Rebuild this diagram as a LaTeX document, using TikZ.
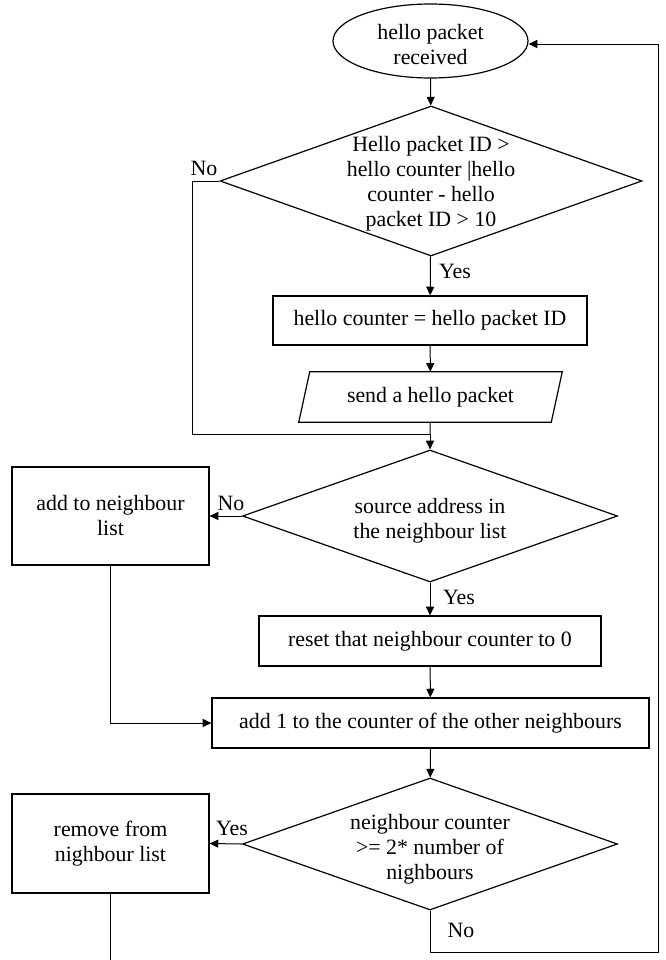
\documentclass[tikz,border=0pt]{standalone}
\usepackage{fontspec}
\setmainfont{Liberation Serif}
\usetikzlibrary{shapes.geometric,arrows.meta}
\newcommand\pxu{0.75pt}
\begin{document}
\begin{tikzpicture}[x=0.75pt,y=-0.75pt,
  font=\fontsize{16.4pt}{18.75pt}\selectfont,
  shape line/.style={draw=black,line width=0.9pt},
  proc/.style={rectangle,shape line,inner sep=0pt,align=center},
  dec/.style={diamond,shape line,inner sep=0pt,minimum width=375*\pxu,minimum height=132*\pxu},
  dectext/.style={align=center,inner sep=0pt},
  flow/.style={line width=0.75pt,-{Triangle[length=6.5pt,width=6pt]}},
  plain/.style={line width=0.75pt},
  lbl/.style={inner sep=0pt}
]
\useasboundingbox (0,0) rectangle (666,960);

% start of the procedure
\node[ellipse,shape line,inner sep=0pt,
      minimum width=195*\pxu,minimum height=74*\pxu] (start) at (430.5,41) {};
\node[dectext] (startt) at (430.5,45) {hello packet\\received};

% hello packet ID check
\node[diamond,shape line,inner sep=0pt,minimum width=422*\pxu,minimum height=150*\pxu] (d1) at (431,181) {};
\node[dectext] (d1t) at (431,184) {Hello packet ID >\\hello counter |hello\\counter - hello\\packet ID > 10};

\node[proc,minimum width=314*\pxu,minimum height=49*\pxu] (upd) at (430,320.5) {hello counter = hello packet ID};

% output step (parallelogram)
\node[inner sep=0pt,minimum width=252*\pxu,minimum height=50*\pxu] (send) at (430.5,397) {send a hello packet};
\draw[shape line] ([xshift=5.5*\pxu]send.north west) -- ([xshift=5.5*\pxu]send.north east)
  -- ([xshift=-5.5*\pxu]send.south east) -- ([xshift=-5.5*\pxu]send.south west) -- cycle;

\coordinate (m1) at (430,434);

% neighbour list check
\node[dec] (d2) at (430,516) {};
\node[dectext] (d2t) at (430,521) {source address in\\the neighbour list};
\node[proc,minimum width=197*\pxu,minimum height=98*\pxu] (addnb) at (110.5,516) {add to neighbour\\list};
\node[proc,minimum width=342*\pxu,minimum height=50*\pxu] (reset) at (430,641) {reset that neighbour counter to 0};
\node[proc,minimum width=437*\pxu,minimum height=50*\pxu] (inc) at (430.5,723) {add 1 to the counter of the other neighbours};

% neighbour counter check
\node[dec] (d3) at (430,844) {};
\node[dectext] (d3t) at (430,849) {neighbour counter\\>= 2* number of\\nighbours};
\node[proc,minimum width=197*\pxu,minimum height=99*\pxu] (remove) at (110.5,843.5) {remove from\\nighbour list};

\coordinate (loopb) at (430,952);
\coordinate (loopr) at (658,952);
\coordinate (rmend) at (110.5,960);

% connectors
\draw[flow] (start) -- (d1);
\draw[flow] (d1) -- (upd);
\draw[flow] (upd) -- (send);
\draw[plain] (send) -- (m1);
\draw[plain] (d1.west) -- ++(-27,0) |- (m1);
\draw[flow] (m1) -- (d2);
\draw[flow] (d2.west) -- (addnb.east);
\draw[flow] (d2) -- (reset);
\draw[flow] (reset) -- (inc);
\draw[flow] (addnb.south) |- (inc.west);
\draw[flow] (inc) -- (d3);
\draw[flow] (d3.west) -- (remove.east);
\draw[plain] (remove.south) -- (rmend);
\draw[flow] (d3.south) -- (loopb) -- (loopr) |- ([yshift=-3*\pxu]start.east);

% branch labels
\node[lbl] (n1) at (204,168) {No};
\node[lbl] (y1) at (455,271) {Yes};
\node[lbl] (n2) at (231,503) {No};
\node[lbl] (y2) at (459,597) {Yes};
\node[lbl] (y3) at (232,828) {Yes};
\node[lbl] (n3) at (461,930) {No};
\end{tikzpicture}
\end{document}
